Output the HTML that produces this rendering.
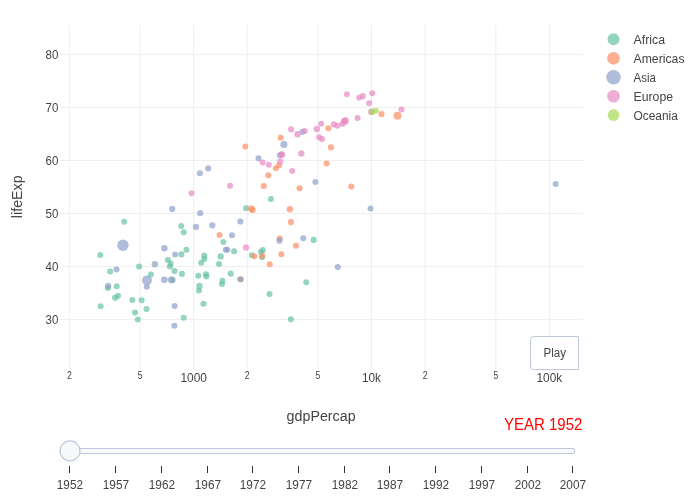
<!DOCTYPE html><html><head><meta charset="utf-8"><style>html,body{margin:0;padding:0;background:#fff;}svg{display:block;will-change:transform;}text{font-family:"Liberation Sans",sans-serif;}</style></head><body>
<svg width="700" height="500" viewBox="0 0 700 500">
<rect x="0" y="0" width="700" height="500" fill="#fff"/>
<g stroke="#eee" stroke-width="1">
<line x1="69.31" y1="25" x2="69.31" y2="369"/>
<line x1="140.1" y1="25" x2="140.1" y2="369"/>
<line x1="193.65" y1="25" x2="193.65" y2="369"/>
<line x1="247.2" y1="25" x2="247.2" y2="369"/>
<line x1="317.99" y1="25" x2="317.99" y2="369"/>
<line x1="371.54" y1="25" x2="371.54" y2="369"/>
<line x1="425.09" y1="25" x2="425.09" y2="369"/>
<line x1="495.88" y1="25" x2="495.88" y2="369"/>
<line x1="549.43" y1="25" x2="549.43" y2="369"/>
<line x1="60" y1="319.44" x2="583" y2="319.44"/>
<line x1="60" y1="266.44" x2="583" y2="266.44"/>
<line x1="60" y1="213.44" x2="583" y2="213.44"/>
<line x1="60" y1="160.43" x2="583" y2="160.43"/>
<line x1="60" y1="107.43" x2="583" y2="107.43"/>
<line x1="60" y1="54.43" x2="583" y2="54.43"/>
</g>
<g fill="#444" font-size="12">
<text x="58.4" y="323.7" text-anchor="end" textLength="12.8" lengthAdjust="spacingAndGlyphs">30</text>
<text x="58.4" y="270.7" text-anchor="end" textLength="12.8" lengthAdjust="spacingAndGlyphs">40</text>
<text x="58.4" y="217.7" text-anchor="end" textLength="12.8" lengthAdjust="spacingAndGlyphs">50</text>
<text x="58.4" y="164.7" text-anchor="end" textLength="12.8" lengthAdjust="spacingAndGlyphs">60</text>
<text x="58.4" y="111.7" text-anchor="end" textLength="12.8" lengthAdjust="spacingAndGlyphs">70</text>
<text x="58.4" y="58.7" text-anchor="end" textLength="12.8" lengthAdjust="spacingAndGlyphs">80</text>
</g>
<g fill="#444">
<text x="69.31" y="379" text-anchor="middle" font-size="10.2" textLength="4.8" lengthAdjust="spacingAndGlyphs">2</text>
<text x="140.10" y="379" text-anchor="middle" font-size="10.2" textLength="4.8" lengthAdjust="spacingAndGlyphs">5</text>
<text x="193.7" y="382" text-anchor="middle" font-size="12" textLength="26.4" lengthAdjust="spacingAndGlyphs">1000</text>
<text x="247.20" y="379" text-anchor="middle" font-size="10.2" textLength="4.8" lengthAdjust="spacingAndGlyphs">2</text>
<text x="317.99" y="379" text-anchor="middle" font-size="10.2" textLength="4.8" lengthAdjust="spacingAndGlyphs">5</text>
<text x="371.5" y="382" text-anchor="middle" font-size="12" textLength="19" lengthAdjust="spacingAndGlyphs">10k</text>
<text x="425.09" y="379" text-anchor="middle" font-size="10.2" textLength="4.8" lengthAdjust="spacingAndGlyphs">2</text>
<text x="495.88" y="379" text-anchor="middle" font-size="10.2" textLength="4.8" lengthAdjust="spacingAndGlyphs">5</text>
<text x="549.4" y="382" text-anchor="middle" font-size="12" textLength="25.8" lengthAdjust="spacingAndGlyphs">100k</text>
</g>
<text x="321.1" y="421.1" text-anchor="middle" font-size="14" fill="#444" textLength="69" lengthAdjust="spacingAndGlyphs">gdpPercap</text>
<text transform="translate(22.4,196.8) rotate(-90)" x="0" y="0" text-anchor="middle" font-size="14" fill="#444" textLength="42.7" lengthAdjust="spacingAndGlyphs">lifeExp</text>
<g fill="#66c2a5" fill-opacity="0.7">
<circle cx="262.85" cy="250.13" r="3.06"/>
<circle cx="290.89" cy="319.36" r="3.03"/>
<circle cx="198.35" cy="275.85" r="3.01"/>
<circle cx="181.21" cy="226.04" r="3.00"/>
<circle cx="146.51" cy="308.97" r="3.03"/>
<circle cx="110.15" cy="271.57" r="3.02"/>
<circle cx="205.96" cy="274.26" r="3.04"/>
<circle cx="198.97" cy="290.48" r="3.01"/>
<circle cx="206.35" cy="276.55" r="3.02"/>
<circle cx="201.22" cy="262.65" r="3.00"/>
<circle cx="174.51" cy="270.98" r="3.10"/>
<circle cx="251.91" cy="255.25" r="3.01"/>
<circle cx="219.01" cy="263.91" r="3.02"/>
<circle cx="269.51" cy="293.93" r="3.00"/>
<circle cx="220.68" cy="256.40" r="3.15"/>
<circle cx="118.01" cy="295.68" r="3.00"/>
<circle cx="107.75" cy="288.02" r="3.01"/>
<circle cx="115.18" cy="297.82" r="3.14"/>
<circle cx="306.22" cy="282.32" r="3.00"/>
<circle cx="137.78" cy="319.44" r="3.00"/>
<circle cx="186.47" cy="249.75" r="3.04"/>
<circle cx="141.66" cy="300.31" r="3.02"/>
<circle cx="100.60" cy="306.19" r="3.00"/>
<circle cx="181.42" cy="254.41" r="3.05"/>
<circle cx="100.34" cy="255.11" r="3.01"/>
<circle cx="150.97" cy="274.49" r="3.01"/>
<circle cx="260.88" cy="252.00" r="3.01"/>
<circle cx="221.98" cy="284.03" r="3.03"/>
<circle cx="116.66" cy="286.28" r="3.02"/>
<circle cx="132.36" cy="299.91" r="3.03"/>
<circle cx="170.71" cy="263.56" r="3.01"/>
<circle cx="245.95" cy="208.21" r="3.00"/>
<circle cx="234.11" cy="251.21" r="3.07"/>
<circle cx="135.08" cy="312.62" r="3.05"/>
<circle cx="262.05" cy="257.29" r="3.00"/>
<circle cx="172.64" cy="279.98" r="3.02"/>
<circle cx="199.40" cy="285.92" r="3.22"/>
<circle cx="270.92" cy="199.00" r="3.00"/>
<circle cx="139.06" cy="266.44" r="3.02"/>
<circle cx="183.74" cy="232.14" r="3.00"/>
<circle cx="222.37" cy="280.86" r="3.02"/>
<circle cx="183.76" cy="317.68" r="3.02"/>
<circle cx="203.48" cy="303.65" r="3.02"/>
<circle cx="313.62" cy="239.89" r="3.10"/>
<circle cx="230.73" cy="273.67" r="3.06"/>
<circle cx="204.34" cy="258.98" r="3.00"/>
<circle cx="167.91" cy="260.00" r="3.06"/>
<circle cx="181.98" cy="273.88" r="3.01"/>
<circle cx="223.33" cy="242.06" r="3.03"/>
<circle cx="169.84" cy="266.55" r="3.04"/>
<circle cx="204.27" cy="255.64" r="3.02"/>
<circle cx="124.18" cy="221.65" r="3.02"/>
</g>
<g fill="#fc8d62" fill-opacity="0.7">
<circle cx="330.92" cy="147.26" r="3.12"/>
<circle cx="269.73" cy="264.24" r="3.02"/>
<circle cx="251.30" cy="208.58" r="3.38"/>
<circle cx="381.44" cy="114.06" r="3.10"/>
<circle cx="299.58" cy="188.29" r="3.04"/>
<circle cx="252.58" cy="210.03" r="3.09"/>
<circle cx="268.27" cy="175.24" r="3.01"/>
<circle cx="326.56" cy="163.50" r="3.04"/>
<circle cx="219.52" cy="235.02" r="3.02"/>
<circle cx="290.92" cy="222.14" r="3.02"/>
<circle cx="279.76" cy="238.55" r="3.01"/>
<circle cx="262.19" cy="255.71" r="3.02"/>
<circle cx="240.77" cy="279.27" r="3.02"/>
<circle cx="254.39" cy="256.30" r="3.01"/>
<circle cx="275.87" cy="168.23" r="3.01"/>
<circle cx="289.95" cy="209.25" r="3.21"/>
<circle cx="281.37" cy="254.17" r="3.01"/>
<circle cx="263.83" cy="185.92" r="3.01"/>
<circle cx="245.34" cy="146.39" r="3.01"/>
<circle cx="295.94" cy="245.76" r="3.06"/>
<circle cx="280.61" cy="137.75" r="3.02"/>
<circle cx="279.12" cy="165.20" r="3.00"/>
<circle cx="397.48" cy="115.70" r="3.96"/>
<circle cx="328.34" cy="128.26" r="3.02"/>
<circle cx="351.24" cy="186.47" r="3.04"/>
</g>
<g fill="#8da0cb" fill-opacity="0.7">
<circle cx="174.40" cy="325.79" r="3.06"/>
<circle cx="370.51" cy="208.46" r="3.00"/>
<circle cx="164.34" cy="279.77" r="3.31"/>
<circle cx="116.52" cy="269.53" r="3.03"/>
<circle cx="122.95" cy="245.24" r="5.70"/>
<circle cx="279.91" cy="155.35" r="3.01"/>
<circle cx="146.98" cy="280.36" r="4.97"/>
<circle cx="171.39" cy="279.86" r="3.53"/>
<circle cx="279.43" cy="240.63" r="3.12"/>
<circle cx="303.22" cy="238.24" r="3.04"/>
<circle cx="302.40" cy="131.87" r="3.01"/>
<circle cx="283.92" cy="144.38" r="3.56"/>
<circle cx="227.35" cy="249.70" r="3.00"/>
<circle cx="200.19" cy="213.14" r="3.06"/>
<circle cx="195.98" cy="226.93" r="3.14"/>
<circle cx="555.65" cy="183.94" r="3.00"/>
<circle cx="315.39" cy="182.02" r="3.01"/>
<circle cx="240.39" cy="221.58" r="3.05"/>
<circle cx="175.10" cy="254.54" r="3.01"/>
<circle cx="108.23" cy="285.95" r="3.14"/>
<circle cx="146.88" cy="286.80" r="3.06"/>
<circle cx="240.26" cy="279.27" r="3.00"/>
<circle cx="164.38" cy="248.23" r="3.28"/>
<circle cx="212.29" cy="225.35" r="3.15"/>
<circle cx="337.78" cy="267.10" r="3.03"/>
<circle cx="258.50" cy="158.34" r="3.01"/>
<circle cx="199.85" cy="173.19" r="3.06"/>
<circle cx="232.03" cy="235.26" r="3.03"/>
<circle cx="208.18" cy="168.38" r="3.06"/>
<circle cx="172.22" cy="208.94" r="3.15"/>
<circle cx="154.84" cy="264.25" r="3.18"/>
<circle cx="225.77" cy="249.69" r="3.01"/>
<circle cx="174.62" cy="305.93" r="3.03"/>
</g>
<g fill="#e78ac3" fill-opacity="0.7">
<circle cx="230.01" cy="185.72" r="3.01"/>
<circle cx="333.82" cy="124.39" r="3.05"/>
<circle cx="357.54" cy="118.03" r="3.06"/>
<circle cx="191.58" cy="193.19" r="3.02"/>
<circle cx="262.70" cy="162.55" r="3.05"/>
<circle cx="281.54" cy="154.02" r="3.03"/>
<circle cx="342.60" cy="124.02" r="3.06"/>
<circle cx="369.13" cy="103.30" r="3.03"/>
<circle cx="337.36" cy="125.72" r="3.03"/>
<circle cx="344.31" cy="121.16" r="3.29"/>
<circle cx="345.56" cy="120.68" r="3.45"/>
<circle cx="291.11" cy="129.38" r="3.05"/>
<circle cx="321.96" cy="139.08" r="3.07"/>
<circle cx="346.88" cy="94.24" r="3.00"/>
<circle cx="321.17" cy="123.81" r="3.02"/>
<circle cx="316.92" cy="128.95" r="3.32"/>
<circle cx="268.87" cy="164.87" r="3.00"/>
<circle cx="362.90" cy="96.14" r="3.07"/>
<circle cx="372.27" cy="93.28" r="3.02"/>
<circle cx="301.31" cy="153.49" r="3.18"/>
<circle cx="280.26" cy="161.39" r="3.06"/>
<circle cx="282.16" cy="154.87" r="3.11"/>
<circle cx="292.21" cy="171.06" r="3.05"/>
<circle cx="319.13" cy="137.33" r="3.02"/>
<circle cx="304.80" cy="130.91" r="3.01"/>
<circle cx="297.48" cy="134.25" r="3.19"/>
<circle cx="359.24" cy="97.58" r="3.05"/>
<circle cx="401.48" cy="109.45" r="3.03"/>
<circle cx="246.00" cy="247.44" r="3.15"/>
<circle cx="371.38" cy="111.78" r="3.34"/>
</g>
<g fill="#a6d854" fill-opacity="0.7">
<circle cx="371.84" cy="112.10" r="3.06"/>
<circle cx="375.72" cy="110.67" r="3.01"/>
</g>
<circle cx="613.5" cy="39.3" r="6.0" fill="#66c2a5" fill-opacity="0.7"/>
<text x="633.5" y="43.8" font-size="12" fill="#444" textLength="31.5" lengthAdjust="spacingAndGlyphs">Africa</text>
<circle cx="613.5" cy="58.3" r="6.3" fill="#fc8d62" fill-opacity="0.7"/>
<text x="633.5" y="62.8" font-size="12" fill="#444" textLength="51" lengthAdjust="spacingAndGlyphs">Americas</text>
<circle cx="613.5" cy="77.3" r="7.2" fill="#8da0cb" fill-opacity="0.7"/>
<text x="633.5" y="81.8" font-size="12" fill="#444" textLength="22.4" lengthAdjust="spacingAndGlyphs">Asia</text>
<circle cx="613.5" cy="96.3" r="6.3" fill="#e78ac3" fill-opacity="0.7"/>
<text x="633.5" y="100.8" font-size="12" fill="#444" textLength="39.6" lengthAdjust="spacingAndGlyphs">Europe</text>
<circle cx="613.5" cy="115.2" r="5.85" fill="#a6d854" fill-opacity="0.7"/>
<text x="633.5" y="119.7" font-size="12" fill="#444" textLength="44.4" lengthAdjust="spacingAndGlyphs">Oceania</text>
<path d="M533.5,336.5 H578.5 V369.5 H533.5 A3,3 0 0 1 530.5,366.5 V339.5 A3,3 0 0 1 533.5,336.5 Z" fill="#fff" stroke="#bec8d9" stroke-width="1"/>
<text x="554.8" y="356.6" text-anchor="middle" font-size="12" fill="#444" textLength="22.4" lengthAdjust="spacingAndGlyphs">Play</text>
<text x="582.4" y="430" text-anchor="end" font-size="16" fill="#ff0000" textLength="78.4" lengthAdjust="spacingAndGlyphs">YEAR 1952</text>
<rect x="60.5" y="448.5" width="514" height="5" rx="2" ry="2" fill="#f8fafc" stroke="#bec8d9" stroke-width="1" shape-rendering="crispEdges"/>
<g stroke="#333" stroke-width="1" shape-rendering="crispEdges">
<line x1="69.5" y1="466" x2="69.5" y2="473"/>
<line x1="115.5" y1="466" x2="115.5" y2="473"/>
<line x1="161.5" y1="466" x2="161.5" y2="473"/>
<line x1="207.5" y1="466" x2="207.5" y2="473"/>
<line x1="252.5" y1="466" x2="252.5" y2="473"/>
<line x1="298.5" y1="466" x2="298.5" y2="473"/>
<line x1="344.5" y1="466" x2="344.5" y2="473"/>
<line x1="389.5" y1="466" x2="389.5" y2="473"/>
<line x1="435.5" y1="466" x2="435.5" y2="473"/>
<line x1="481.5" y1="466" x2="481.5" y2="473"/>
<line x1="527.5" y1="466" x2="527.5" y2="473"/>
<line x1="572.5" y1="466" x2="572.5" y2="473"/>
</g>
<g fill="#444" font-size="12">
<text x="69.9" y="488.5" text-anchor="middle" textLength="26.3" lengthAdjust="spacingAndGlyphs">1952</text>
<text x="115.9" y="488.5" text-anchor="middle" textLength="26.3" lengthAdjust="spacingAndGlyphs">1957</text>
<text x="161.9" y="488.5" text-anchor="middle" textLength="26.3" lengthAdjust="spacingAndGlyphs">1962</text>
<text x="207.9" y="488.5" text-anchor="middle" textLength="26.3" lengthAdjust="spacingAndGlyphs">1967</text>
<text x="252.9" y="488.5" text-anchor="middle" textLength="26.3" lengthAdjust="spacingAndGlyphs">1972</text>
<text x="298.9" y="488.5" text-anchor="middle" textLength="26.3" lengthAdjust="spacingAndGlyphs">1977</text>
<text x="344.9" y="488.5" text-anchor="middle" textLength="26.3" lengthAdjust="spacingAndGlyphs">1982</text>
<text x="389.9" y="488.5" text-anchor="middle" textLength="26.3" lengthAdjust="spacingAndGlyphs">1987</text>
<text x="435.9" y="488.5" text-anchor="middle" textLength="26.3" lengthAdjust="spacingAndGlyphs">1992</text>
<text x="481.9" y="488.5" text-anchor="middle" textLength="26.3" lengthAdjust="spacingAndGlyphs">1997</text>
<text x="527.9" y="488.5" text-anchor="middle" textLength="26.3" lengthAdjust="spacingAndGlyphs">2002</text>
<text x="572.9" y="488.5" text-anchor="middle" textLength="26.3" lengthAdjust="spacingAndGlyphs">2007</text>
</g>
<circle cx="70" cy="450.9" r="10" fill="#f6f8fa" stroke="#bec8d9" stroke-width="1.2"/>
</svg></body></html>
